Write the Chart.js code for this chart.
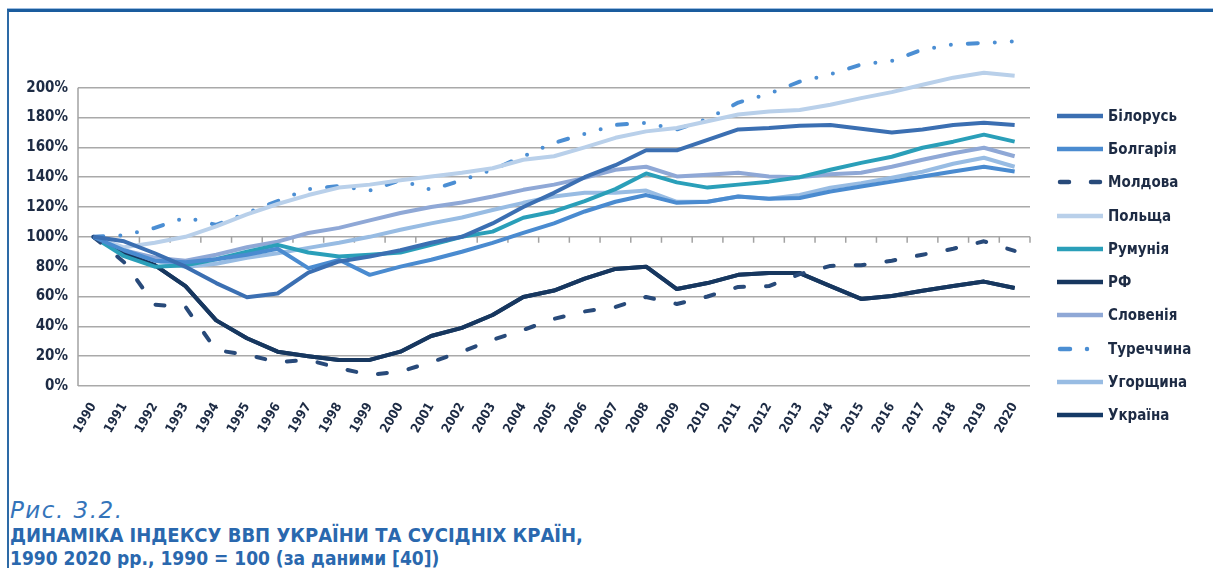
<!DOCTYPE html>
<html>
<head>
<meta charset="UTF-8" />
<title>Динаміка індексу ВВП України та сусідніх країн</title>
<script src="https://cdn.jsdelivr.net/npm/chart.js"></script>
<style>
  body { margin: 0; width: 1213px; height: 568px; overflow: hidden; background: #fff;
         font-family: "Liberation Sans Narrow", "DejaVu Sans Condensed", sans-serif; }
  #frame { position: absolute; left: 7px; top: 9px; width: 1230px; height: 600px;
           border-top: 3px solid #1a5c9e; border-left: 2px solid #2d6aa6; box-shadow: 0 -1px 0 #9dbde0; }
  #wrap { position: absolute; left: 0; top: 0; width: 1213px; height: 470px; }
  #legend { position: absolute; left: 1057px; top: 99px; }
  .item { display: flex; align-items: center; height: 33.3px; font-weight: bold; font-size: 15px; color: #1d2b44; }
  .item svg { width: 46px; height: 8px; margin-right: 5px; }
  #caption { position: absolute; left: 10px; top: 497px; color: #2a68ae; }
  .fig { font-family: "DejaVu Sans", sans-serif; font-style: italic; font-size: 23px; line-height: 27px;
         letter-spacing: 1.5px; color: #3474ba; }
  .ttl { font-weight: bold; font-size: 20px; line-height: 23px; }
  .sub { font-weight: bold; font-size: 19px; line-height: 22px; }
</style>
</head>
<body>
<div id="frame"></div>
<div id="wrap"><canvas id="gdp"></canvas></div>
<div id="legend"></div>
<div id="caption">
  <div class="fig">Рис. 3.2.</div>
  <div class="ttl">ДИНАМІКА ІНДЕКСУ ВВП УКРАЇНИ ТА СУСІДНІХ КРАЇН,</div>
  <div class="sub">1990 2020 рр., 1990 = 100 (за даними [40])</div>
</div>
<script>
// роки
const years = ['1990','1991','1992','1993','1994','1995','1996','1997','1998','1999','2000',
  '2001','2002','2003','2004','2005','2006','2007','2008','2009','2010',
  '2011','2012','2013','2014','2015','2016','2017','2018','2019','2020'];

// індекс ВВП, % до 1990
const belarus  = [100,97,89,80,69,59.5,62,76,83.5,86.8,91,96,100,109,120,129.5,140,148,158,158,165,172,173,174.5,175,172.5,170,172,175,176.5,175];
const bulgaria = [100,91,84,83,85,88,92,79,84.6,74.5,80,84.6,90,96,102.6,109,117,123.5,128,122.8,123.5,127,125.5,126,130.4,133.8,137,140.5,143.8,147,143.8];
const moldova  = [100,83,54.5,53,24,21,16,17.5,12,7.5,9.6,16,23,31,37.6,45,50,53,59.7,55,60,66.4,67,75,80.5,81,84,88,92,97,90.6];
const poland   = [100,93,96,100,107,115,122,128,133,135,138,140.5,143,146,151.7,154,160,166.4,170.7,173,177.5,182,184,185,188.6,193,197,202,206.7,210,208];
const romania  = [100,87,80,81,85,90,94.6,89.5,86.8,88,89.5,94.6,100,103.5,112.8,117,124,132,142.5,136.5,133,135,137,140,145,149.6,153.7,159.7,163.8,168.5,163.8];
const russia   = [100,89,81,67,44,32,23,20,17.4,17.5,23,33.5,39,47.6,59.7,64,72,78.5,80,65,69,74.5,75.7,75.7,67,58.4,60.4,63.8,67,70,65.7];
const slovenia = [100,91,86,84,88,93,96.8,102.6,106,111,116,120,123,127,131.5,135,139.5,145,147,140.5,141.6,143,140.5,140,142,143,147,151.7,156,159.7,154];
const turkey   = [100,101,106,113,108,116,124,132,134,131,138,131.5,138,145,154,163,169,175,176.5,172,179,190,196,204,209,215.5,218,225.5,229,230,231];
const hungary  = [100,88,84,80,82,86,89,92.6,96,100,104.7,109,113,118,122.8,127,129.5,129.5,131,123.5,123.5,127,125.5,128,133,136,139.6,143.6,149,153,147];
const ukraine  = [100,89,81,67,44,32,23,20,17.4,17.5,23,33.5,39,47.6,59.7,64,72,78.5,80,65,69,74.5,75.7,75.7,67,58.4,60.4,63.8,67,70,65.7];

const yTicks = [0,20,40,60,80,100,120,140,160,180,200];

const series = [
  { label: 'Білорусь',  data: belarus,  color: '#3b6fb2' },
  { label: 'Болгарія',  data: bulgaria, color: '#4a8bd0' },
  { label: 'Молдова',   data: moldova,  color: '#284a7a', dash: [9, 22] },
  { label: 'Польща',    data: poland,   color: '#b9d0ea' },
  { label: 'Румунія',   data: romania,  color: '#2a9fb9' },
  { label: 'РФ',        data: russia,   color: '#17375f' },
  { label: 'Словенія',  data: slovenia, color: '#8fa8d6' },
  { label: 'Туреччина', data: turkey,   color: '#4b8ed3', dash: [10, 17, 0, 17, 0, 17] },
  { label: 'Угорщина',  data: hungary,  color: '#98bce3' },
  { label: 'Україна',   data: ukraine,  color: '#153a66' }
];

// поділки осі X на лінії 100% і вертикальна вісь до 200%
const axisMarks = {
  id: 'axisMarks',
  beforeDatasetsDraw(chart) {
    const { ctx, scales: { x, y } } = chart;
    const y100 = y.getPixelForValue(100);
    const step = (x.right - x.left) / years.length;
    ctx.save();
    ctx.strokeStyle = '#a3a3a3';
    ctx.lineWidth = 1.5;
    ctx.beginPath();
    ctx.moveTo(x.left, y.getPixelForValue(0));
    ctx.lineTo(x.left, y.getPixelForValue(200));
    for (let i = 0; i <= years.length; i++) {
      const px = x.left + step * i;
      ctx.moveTo(px, y100);
      ctx.lineTo(px, y100 + 6);
    }
    ctx.stroke();
    ctx.restore();
  }
};

const textColor = '#1d2b44';
const fontFamily = '"Liberation Sans Narrow", "DejaVu Sans Condensed", sans-serif';

new Chart(document.getElementById('gdp'), {
  type: 'line',
  data: {
    labels: years,
    datasets: series.map(s => ({
      label: s.label,
      data: s.data,
      borderColor: s.color,
      backgroundColor: s.color,
      borderWidth: 4,
      borderDash: s.dash || [],
      borderCapStyle: s.dash ? 'round' : 'butt',
      borderJoinStyle: 'round',
      pointRadius: 0,
      tension: 0,
      fill: false
    }))
  },
  options: {
    responsive: true,
    maintainAspectRatio: false,
    animation: false,
    layout: { padding: { top: 28, right: 183, left: 0, bottom: 0 } },
    plugins: { legend: { display: false }, tooltip: { enabled: false } },
    scales: {
      x: {
        offset: true,
        grid: { display: false },
        border: { display: false },
        ticks: {
          autoSkip: false, maxRotation: 60, minRotation: 60, padding: 6,
          color: textColor, font: { family: fontFamily, size: 13, weight: 'bold' }
        },
        afterFit(s) { s.height = 84; }
      },
      y: {
        min: 0, max: 240,
        afterBuildTicks(s) { s.ticks = yTicks.map(v => ({ value: v })); },
        grid: { color: '#a9a9a9', lineWidth: 1.5, drawTicks: false },
        border: { display: false },
        ticks: {
          padding: 10, color: textColor,
          font: { family: fontFamily, size: 15, weight: 'bold' },
          callback: v => v + '%'
        },
        afterFit(s) { s.width = 78; }
      }
    }
  },
  plugins: [axisMarks]
});

// легенда
const legend = document.getElementById('legend');
series.forEach(s => {
  const row = document.createElement('div');
  row.className = 'item';
  const dash = s.dash ? s.dash.join(' ') : 'none';
  const cap = s.dash ? 'round' : 'butt';
  row.innerHTML = `<svg viewBox="0 0 46 8"><line x1="${s.dash ? 3 : 0}" y1="4" x2="46" y2="4" stroke="${s.color}" stroke-width="4.5" stroke-dasharray="${dash}" stroke-linecap="${cap}"/></svg><span>${s.label}</span>`;
  legend.appendChild(row);
});
</script>
</body>
</html>
